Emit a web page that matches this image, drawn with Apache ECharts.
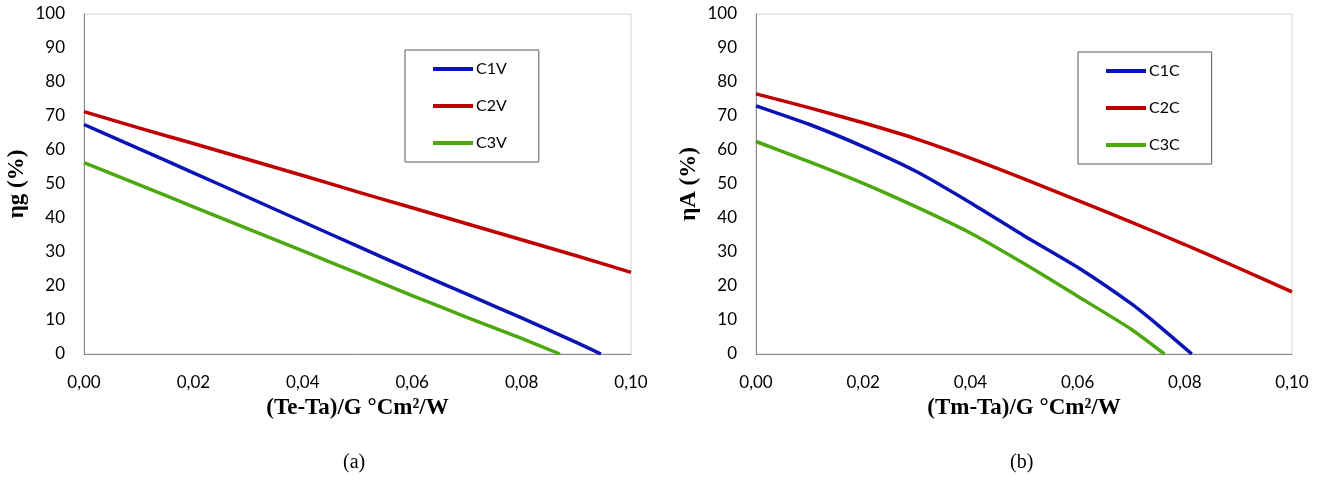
<!DOCTYPE html>
<html>
<head>
<meta charset="utf-8">
<style>
  html, body { margin: 0; padding: 0; background: #fff; }
  #main { width: 1321px; height: 484px; }
</style>
<script src="https://cdn.jsdelivr.net/npm/echarts@6.0.0/dist/echarts.min.js"></script>
</head>
<body>
<div id="main"></div>
<script>
// (a) ηg vs (Te-Ta)/G
var xC1V = [0, 0.01, 0.02, 0.03, 0.04, 0.05, 0.06, 0.07, 0.08, 0.09, 0.0945];
var yC1V = [67.5, 60.4, 53.3, 46.1, 38.9, 31.7, 24.6, 17.6, 10.6, 3.4, 0];
var xC2V = [0, 0.01, 0.02, 0.03, 0.04, 0.05, 0.06, 0.07, 0.08, 0.09, 0.10];
var yC2V = [71.3, 66.5, 61.9, 57.2, 52.5, 47.7, 43.0, 38.3, 33.6, 28.9, 24.0];
var xC3V = [0, 0.01, 0.02, 0.03, 0.04, 0.05, 0.06, 0.07, 0.08, 0.087];
var yC3V = [56.3, 49.8, 43.3, 36.8, 30.3, 23.8, 17.2, 10.8, 4.6, 0];

// (b) ηA vs (Tm-Ta)/G
var xC1C = [0, 0.01, 0.02, 0.03, 0.04, 0.05, 0.06, 0.07, 0.075, 0.0813];
var yC1C = [73, 67.5, 61, 53.6, 44.5, 34.8, 25.5, 14.8, 8.5, 0];
var xC2C = [0, 0.01, 0.02, 0.03, 0.04, 0.05, 0.06, 0.07, 0.08, 0.09, 0.10];
var yC2C = [76.5, 72.4, 68.0, 63.2, 57.6, 51.5, 45.2, 38.8, 32.2, 25.3, 18.3];
var xC3C = [0, 0.01, 0.02, 0.03, 0.04, 0.05, 0.06, 0.07, 0.0762];
var yC3C = [62.5, 56.5, 50.2, 43.2, 35.6, 26.6, 17, 7.3, 0];

var xTicks = { min: 0, max: 0.1, interval: 0.02 };
var yTicks = { min: 0, max: 100, interval: 10 };

var BLUE = '#0a14b4', RED = '#c00000', GREEN = '#4ca80e';

function pairs(xs, ys) {
  return xs.map(function (x, i) { return [x, ys[i]]; });
}

function line(name, xi, xs, ys, color) {
  return {
    name: name,
    type: 'line',
    xAxisIndex: xi,
    yAxisIndex: xi,
    symbol: 'none',
    smooth: 0.2,
    data: pairs(xs, ys),
    lineStyle: { color: color, width: 3.5 },
    itemStyle: { color: color }
  };
}

function xAxis(gi, name) {
  return {
    type: 'value',
    gridIndex: gi,
    min: xTicks.min, max: xTicks.max, interval: xTicks.interval,
    name: name,
    nameLocation: 'middle',
    nameGap: 43,
    nameTextStyle: { fontFamily: 'Liberation Serif', fontWeight: 'bold', fontSize: 23, color: '#000' },
    axisLine: { lineStyle: { color: '#868686', width: 1 } },
    axisTick: { show: false },
    splitLine: { show: false },
    axisLabel: {
      margin: 20, fontFamily: 'Lato', fontSize: 17, color: '#000',
      formatter: function (v) { return v.toFixed(2).replace('.', ','); }
    }
  };
}

function yAxis(gi, name) {
  return {
    type: 'value',
    gridIndex: gi,
    min: yTicks.min, max: yTicks.max, interval: yTicks.interval,
    name: name,
    nameLocation: 'middle',
    nameGap: 55,
    nameTextStyle: { fontFamily: 'Liberation Serif', fontWeight: 'bold', fontSize: 23, color: '#000' },
    axisLine: { show: true, lineStyle: { color: '#868686', width: 1 } },
    axisTick: { show: false },
    splitLine: { show: false },
    axisLabel: { margin: 19, fontFamily: 'Lato', fontSize: 17, color: '#000' }
  };
}

function legend(names, left, top) {
  return {
    data: names,
    orient: 'vertical',
    left: left, top: top,
    padding: [10, 32, 10, 28],
    icon: 'rect',
    itemWidth: 40, itemHeight: 4, itemGap: 19,
    borderColor: '#595959', borderWidth: 1,
    textStyle: { fontFamily: 'Lato', fontSize: 16, color: '#000', padding: [0, 0, 0, -2], lineHeight: 18 }
  };
}

var chart = echarts.init(document.getElementById('main'), null, { renderer: 'canvas' });

chart.setOption({
  backgroundColor: '#fff',
  animation: false,
  grid: [
    { left: 84, right: 690, top: 14, bottom: 130, show: true, borderColor: '#d4d4d4', borderWidth: 1 },
    { left: 756, right: 29, top: 14, bottom: 130, show: true, borderColor: '#d4d4d4', borderWidth: 1 }
  ],
  legend: [
    legend(['C1V', 'C2V', 'C3V'], 405, 50),
    legend(['C1C', 'C2C', 'C3C'], 1078, 52)
  ],
  xAxis: [xAxis(0, '(Te-Ta)/G °Cm²/W'), xAxis(1, '(Tm-Ta)/G °Cm²/W')],
  yAxis: [yAxis(0, 'ηg (%)'), yAxis(1, 'ηA (%)')],
  series: [
    line('C1V', 0, xC1V, yC1V, BLUE),
    line('C2V', 0, xC2V, yC2V, RED),
    line('C3V', 0, xC3V, yC3V, GREEN),
    line('C1C', 1, xC1C, yC1C, BLUE),
    line('C2C', 1, xC2C, yC2C, RED),
    line('C3C', 1, xC3C, yC3C, GREEN)
  ],
  graphic: [
    { type: 'text', left: 343, top: 453, style: { text: '(a)', font: '20px "Liberation Serif"', fill: '#000' } },
    { type: 'text', left: 1010, top: 453, style: { text: '(b)', font: '20px "Liberation Serif"', fill: '#000' } }
  ]
});
</script>
</body>
</html>
